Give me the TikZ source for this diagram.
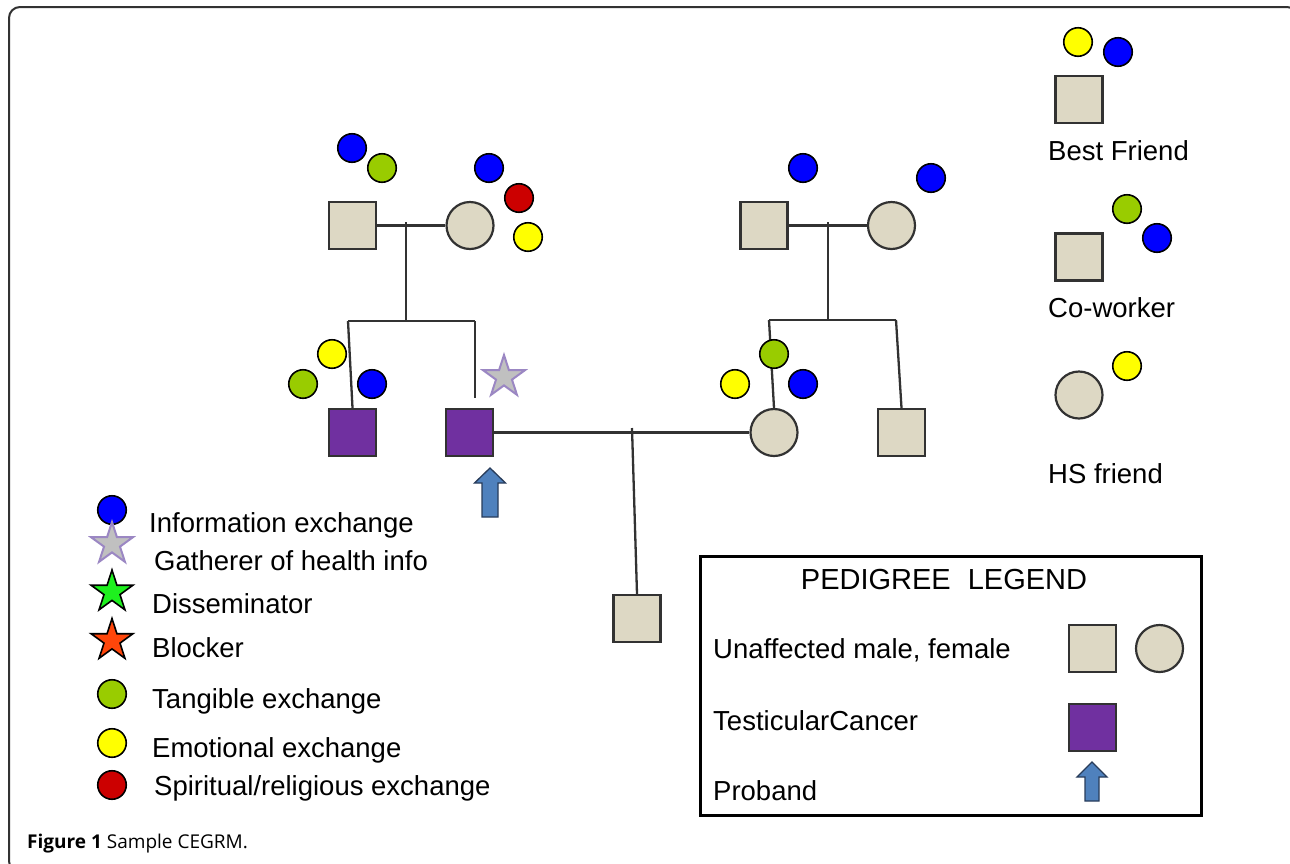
\documentclass[tikz,border=0pt]{standalone}
\usepackage{fontspec}
\setmainfont{Liberation Sans}
\newfontfamily\capfont{Open Sans}
\usetikzlibrary{shapes.geometric,backgrounds}
\definecolor{tanfill}{RGB}{221,216,196}
\definecolor{purp}{RGB}{112,48,160}
\definecolor{infoblue}{RGB}{0,0,255}
\definecolor{tanggreen}{RGB}{153,204,0}
\definecolor{emoyellow}{RGB}{255,255,0}
\definecolor{spired}{RGB}{204,0,0}
\definecolor{arrowblue}{RGB}{79,129,189}
\definecolor{arrowedge}{RGB}{40,60,90}
\definecolor{starlav}{RGB}{155,135,195}
\definecolor{stargray}{RGB}{192,192,192}
\definecolor{dissgreen}{RGB}{30,240,30}
\definecolor{blockred}{RGB}{255,70,10}
\definecolor{linegray}{RGB}{50,50,50}
\begin{document}
\begin{tikzpicture}[x=1pt,y=-1pt,
 male/.style={rectangle,draw=linegray,line width=2.2pt,fill=tanfill,minimum size=47pt,inner sep=0},
 female/.style={circle,draw=linegray,line width=2.2pt,fill=tanfill,minimum size=47pt,inner sep=0},
 affected/.style={male,fill=purp},
 dot/.style={circle,draw=black,line width=1.6pt,minimum size=28.5pt,inner sep=0},
 info/.style={dot,fill=infoblue},
 tang/.style={dot,fill=tanggreen},
 emo/.style={dot,fill=emoyellow},
 spir/.style={dot,fill=spired},
 starsym/.style={star,star points=5,star point ratio=2.618,minimum size=44pt,inner sep=0,line width=1.6pt},
 gather/.style={starsym,fill=stargray,draw=starlav,line width=2pt},
 dissem/.style={starsym,fill=dissgreen,draw=black},
 block/.style={starsym,fill=blockred,draw=black},
 rel/.style={draw=linegray,line width=2.3pt},
 lbl/.style={font=\fontsize{27.5}{32}\selectfont,anchor=base west,inner sep=0,text=black},
 probarrow/.style={fill=arrowblue,draw=arrowedge,line width=1.3pt,line join=miter},
 legendbox/.style={draw=black,line width=3pt,minimum width=501pt,minimum height=259pt,inner sep=0},
 frame/.style={draw=linegray,line width=2pt,rounded corners=11pt}
]
\useasboundingbox (0,0) rectangle (1290,863);
\draw[frame] (9,7) rectangle (1298,872);

% ---- left family ----
\node[male] (gf1) at (352.5,225.5) {};
\node[female] (gm1) at (470,225.5) {};
\node[info] (gf1i) at (352,148) {};
\node[tang] (gf1t) at (382,168) {};
\node[info] (gm1i) at (489,168) {};
\node[spir] (gm1s) at (519,198) {};
\node[emo] (gm1e) at (528,237) {};
\node[affected] (bro1) at (352.5,432.5) {};
\node[emo] (bro1e) at (332,354) {};
\node[tang] (bro1t) at (303,384) {};
\node[info] (bro1i) at (372,384) {};
\node[affected] (prob) at (469.5,432.5) {};
\node[gather] (probstar) at (504,377) {};
\draw[probarrow] (490,468) -- ++(15.5,15) -- ++(-7.5,0) -- ++(0,34) -- ++(-16,0) -- ++(0,-34) -- ++(-7.5,0) -- cycle;

% ---- right family ----
\node[male] (gf2) at (764,225.5) {};
\node[female] (gm2) at (891.5,225.5) {};
\node[info] (gf2i) at (803,168) {};
\node[info] (gm2i) at (931,178) {};
\node[female] (sis) at (774,432.5) {};
\node[tang] (sist) at (774,354) {};
\node[emo] (sise) at (735,384) {};
\node[info] (sisi) at (803,384) {};
\node[male] (bro2) at (901.5,432.5) {};
\node[male] (child) at (637,618.5) {};

% ---- friends ----
\node[male] (bf) at (1079,99.5) {};
\node[emo] (bfe) at (1078,42) {};
\node[info] (bfi) at (1118,52) {};
\node[lbl] (bft) at (1048,160) {Best Friend};
\node[male] (cw) at (1079,257) {};
\node[tang] (cwt) at (1127,209) {};
\node[info] (cwi) at (1157,238) {};
\node[lbl] (cwtx) at (1048,317) {Co-worker};
\node[female] (hs) at (1079,395) {};
\node[emo] (hse) at (1127,366) {};
\node[lbl] (hst) at (1048,483) {HS friend};

% ---- connectors ----
\begin{scope}[on background layer]
\draw[rel] (gf1.east) -- (gm1.west);
\coordinate (d1top) at (406,222);
\coordinate (sib1l) at (348,321);
\coordinate (sib1r) at (475,321);
\coordinate (d1bot) at (406,321);
\draw[rel] (d1top) -- (d1bot);
\draw[rel] (sib1l) -- (sib1r);
\draw[rel] (sib1l) -- (bro1.north);
\coordinate (probstub) at (475,398);
\draw[rel] (sib1r) -- (probstub);
\draw[rel] (prob.east) -- (sis.west);
\coordinate (d3top) at (632,428);
\draw[rel] (d3top) -- (child.north);
\draw[rel] (gf2.east) -- (gm2.west);
\coordinate (d2top) at (828,222);
\coordinate (d2bot) at (828,320);
\coordinate (sib2l) at (769,320);
\coordinate (sib2r) at (896,320);
\draw[rel] (d2top) -- (d2bot);
\draw[rel] (sib2l) -- (sib2r);
\draw[rel] (sib2l) -- (sis.north);
\draw[rel] (sib2r) -- (bro2.north);
\end{scope}

% ---- symbol legend ----
\node[info] (lg1) at (112,510) {};
\node[lbl] (lg1t) at (149,532) {Information exchange};
\node[gather] (lg2) at (112,544) {};
\node[lbl] (lg2t) at (154,570) {Gatherer of health info};
\node[dissem] (lg3) at (112,592) {};
\node[lbl] (lg3t) at (152,613) {Disseminator};
\node[block] (lg4) at (112,640.5) {};
\node[lbl] (lg4t) at (152,657) {Blocker};
\node[tang] (lg5) at (112,694) {};
\node[lbl] (lg5t) at (152,708) {Tangible exchange};
\node[emo] (lg6) at (112,743) {};
\node[lbl] (lg6t) at (152,757) {Emotional exchange};
\node[spir] (lg7) at (112,785) {};
\node[lbl] (lg7t) at (154,795) {Spiritual/religious exchange};

% ---- pedigree legend ----
\node[legendbox] (pl) at (951,686) {};
\node[lbl,anchor=base,font=\fontsize{29}{34}\selectfont] (plt) at (944,589) {PEDIGREE\hspace{17pt}LEGEND};
\node[lbl] (pl1) at (713,658) {Unaffected male, female};
\node[male] (plm) at (1092.5,648.5) {};
\node[female] (plf) at (1159.5,648.5) {};
\node[lbl] (pl2) at (713,730) {TesticularCancer};
\node[affected] (pla) at (1092.5,727.5) {};
\node[lbl] (pl3) at (713,800) {Proband};
\draw[probarrow] (1092,762) -- ++(15,15) -- ++(-8,0) -- ++(0,24) -- ++(-14,0) -- ++(0,-24) -- ++(-8,0) -- cycle;

% ---- caption ----
\node[anchor=base west,inner sep=0,font=\capfont\fontsize{19}{22}\selectfont] (cap) at (27,848) {\textbf{Figure 1} Sample CEGRM.};
\end{tikzpicture}
\end{document}
